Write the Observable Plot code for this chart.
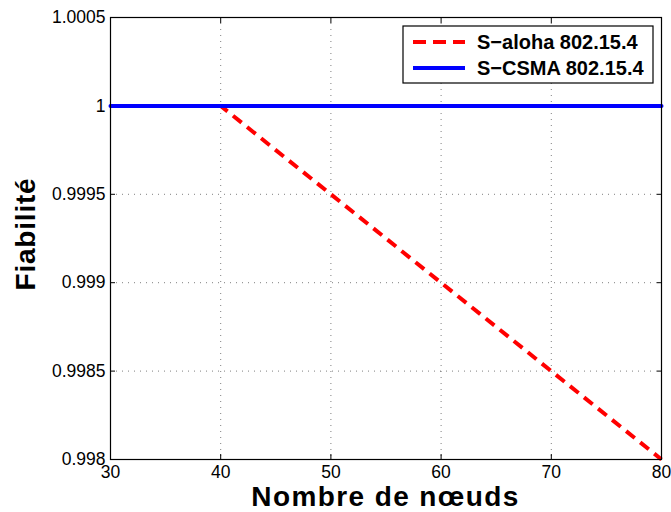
<!DOCTYPE html>
<html>
<head>
<meta charset="utf-8">
<script src="https://cdn.jsdelivr.net/npm/d3@7"></script>
<script src="https://cdn.jsdelivr.net/npm/@observablehq/plot@0.6"></script>
<style>
html,body{margin:0;padding:0;background:#fff;}
svg{font-family:"Liberation Sans",Arial,Helvetica,sans-serif;}
</style>
</head>
<body>
<div id="chart"></div>
<script>
const nodes = [30, 40, 50, 60, 70, 80];
const alohaValues = [1, 1, 0.9995, 0.999, 0.9985, 0.998];
const csmaValues = [1, 1, 1, 1, 1, 1];
const seriesNames = ["S\u2212aloha 802.15.4", "S\u2212CSMA 802.15.4"];
const seriesColors = ["#ff0000", "#0000ff"];
const xTicks = [30, 40, 50, 60, 70, 80];
const yTicks = [0.998, 0.9985, 0.999, 0.9995, 1, 1.0005];

const aloha = nodes.map((x, i) => ({x, y: alohaValues[i]}));
const csma = nodes.map((x, i) => ({x, y: csmaValues[i]}));

const fmtY = d => String(+d.toFixed(4));
const W = 671, H = 512;
const mL = 110, mR = 10, mT = 17, mB = 53;

const plot = Plot.plot({
  width: W, height: H,
  marginLeft: mL, marginRight: mR, marginTop: mT, marginBottom: mB,
  style: {fontFamily: '"Liberation Sans", Arial, sans-serif', background: "#fff", color: "#000"},
  x: {domain: [30, 80], axis: null},
  y: {domain: [0.998, 1.0005], axis: null},
  marks: [
    Plot.gridX(xTicks, {stroke: "#000", strokeOpacity: 0.5, strokeDasharray: "1,5", strokeWidth: 1}),
    Plot.gridY(yTicks, {stroke: "#000", strokeOpacity: 0.5, strokeDasharray: "1,5", strokeWidth: 1}),
    Plot.text(xTicks, {x: d => d, frameAnchor: "bottom", lineAnchor: "top", dy: 6, text: d => String(d), fontSize: 17.5, fill: "#000"}),
    Plot.text(yTicks, {y: d => d, frameAnchor: "left", textAnchor: "end", dx: -5, text: fmtY, fontSize: 17.5, fill: "#000"}),
    Plot.axisX(xTicks, {anchor: "bottom", tickSize: -5, tickFormat: () => "", label: null, stroke: "#000"}),
    Plot.axisX(xTicks, {anchor: "top", tickSize: -5, tickFormat: () => "", label: null, stroke: "#000"}),
    Plot.axisY(yTicks, {anchor: "left", tickSize: -5, tickFormat: () => "", label: null, stroke: "#000"}),
    Plot.axisY(yTicks, {anchor: "right", tickSize: -5, tickFormat: () => "", label: null, stroke: "#000"}),
    Plot.line(aloha, {x: "x", y: "y", stroke: seriesColors[0], strokeWidth: 4, strokeDasharray: "11,7", strokeLinecap: "butt"}),
    Plot.line(csma, {x: "x", y: "y", stroke: seriesColors[1], strokeWidth: 4}),
    Plot.frame({stroke: "#000", strokeWidth: 1.2})
  ]
});

const svg = d3.select(plot);

// axis titles
svg.append("text")
  .attr("x", mL + (W - mL - mR) / 2).attr("y", 506)
  .attr("text-anchor", "middle")
  .style("font-weight", "bold").style("font-size", "28px")
  .attr("letter-spacing", "1.4px")
  .attr("fill", "#000")
  .text("Nombre de nœuds");
svg.append("text")
  .attr("transform", `translate(35,${mT + (H - mT - mB) / 2 - 4}) rotate(-90)`)
  .attr("text-anchor", "middle")
  .style("font-weight", "bold").style("font-size", "28px")
  .attr("letter-spacing", "0.8px")
  .attr("fill", "#000")
  .text("Fiabilité");

// legend
const lg = svg.append("g").attr("transform", "translate(403,26)");
lg.append("rect").attr("width", 250).attr("height", 57)
  .attr("fill", "#fff").attr("stroke", "#000").attr("stroke-width", 1.2);
seriesNames.forEach((name, i) => {
  const cy = 16 + i * 26;
  lg.append("line").attr("x1", 10).attr("x2", 62).attr("y1", cy).attr("y2", cy)
    .attr("stroke", seriesColors[i]).attr("stroke-width", 4)
    .attr("stroke-dasharray", i === 0 ? "13,7" : null);
  lg.append("text").attr("x", 74).attr("y", cy).attr("dy", "0.36em")
    .attr("text-anchor", "start")
    .style("font-weight", "bold").style("font-size", "20px").attr("fill", "#000")
    .text(name);
});

document.getElementById("chart").appendChild(plot);
</script>
</body>
</html>
